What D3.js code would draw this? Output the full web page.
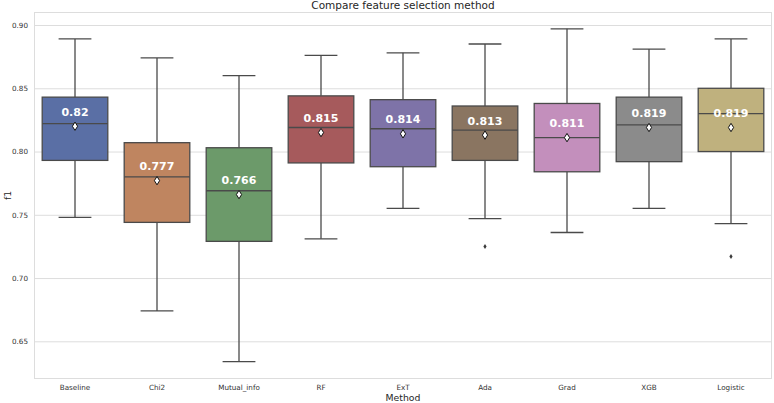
<!DOCTYPE html>
<html><head><meta charset="utf-8">
<script src="https://cdn.jsdelivr.net/npm/d3@7"></script>
<style>html,body{margin:0;padding:0;background:#fff;} svg{display:block;}</style>
</head><body>
<svg id="chart" width="774" height="403"></svg>
<script>
const categories = ["Baseline","Chi2","Mutual_info","RF","ExT","Ada","Grad","XGB","Logistic"];
const whiskerHigh = [0.889, 0.874, 0.860, 0.876, 0.878, 0.885, 0.897, 0.881, 0.889];
const q3Values    = [0.843, 0.807, 0.803, 0.844, 0.841, 0.836, 0.838, 0.843, 0.850];
const medians     = [0.822, 0.780, 0.769, 0.819, 0.818, 0.817, 0.811, 0.821, 0.830];
const q1Values    = [0.793, 0.744, 0.729, 0.791, 0.788, 0.793, 0.784, 0.792, 0.800];
const whiskerLow  = [0.748, 0.674, 0.634, 0.731, 0.755, 0.747, 0.736, 0.755, 0.743];
const means       = [0.820, 0.777, 0.766, 0.815, 0.814, 0.813, 0.811, 0.819, 0.819];
const outliers    = [[], [], [], [], [], [0.725], [], [], [0.717]];
const colors      = ["#5a6fa5","#bf8560","#6c9a6a","#a65a5c","#7e73a8","#8a7561","#c38fbc","#8b8b8b","#bfb17e"];
const yTicks      = [0.65, 0.70, 0.75, 0.80, 0.85, 0.90];

const svg = d3.select("#chart");
const W = 774, H = 403;
const m = {left: 34, right: 2, top: 12, bottom: 24};
svg.append("rect").attr("width", W).attr("height", H).attr("fill", "#fff");

const x = d3.scaleBand().domain(categories).range([m.left, W - m.right]).paddingInner(0).paddingOuter(0);
const y = d3.scaleLinear().domain([0.6202, 0.9103]).range([H - m.bottom, m.top]);

// grid
const yAxis = d3.axisLeft(y).tickValues(yTicks).tickFormat(d3.format(".2f")).tickSize(-(W - m.left - m.right)).tickPadding(6);
const gy = svg.append("g").attr("transform", `translate(${m.left},0)`).call(yAxis);
gy.select(".domain").remove();
gy.selectAll(".tick line").attr("stroke", "#dddddd").attr("stroke-width", 1);
gy.selectAll(".tick text").attr("fill", "#333").attr("font-family", "DejaVu Sans").attr("font-size", 7.2);

// frame
svg.append("rect").attr("x", m.left + 0.5).attr("y", m.top + 0.5)
  .attr("width", W - m.left - m.right - 1).attr("height", H - m.top - m.bottom - 1)
  .attr("fill", "none").attr("stroke", "#dddddd").attr("stroke-width", 1);

const xAxis = d3.axisBottom(x).tickSize(0).tickPadding(6);
const gx = svg.append("g").attr("transform", `translate(0,${H - m.bottom})`).call(xAxis);
gx.select(".domain").remove();
gx.selectAll(".tick text").attr("fill", "#333").attr("font-family", "DejaVu Sans").attr("font-size", 7.2);

const bw = x.bandwidth() * 0.8;
const lineColor = "#4a4a4a";
const data = categories.map((c, i) => ({c, i}));
const g = svg.append("g").selectAll("g").data(data).join("g")
  .attr("transform", d => `translate(${x(d.c) + x.bandwidth() / 2},0)`);

// whiskers
g.append("line").attr("x1", 0).attr("x2", 0)
  .attr("y1", d => y(q3Values[d.i])).attr("y2", d => y(whiskerHigh[d.i]))
  .attr("stroke", lineColor).attr("stroke-width", 1.3);
g.append("line").attr("x1", 0).attr("x2", 0)
  .attr("y1", d => y(q1Values[d.i])).attr("y2", d => y(whiskerLow[d.i]))
  .attr("stroke", lineColor).attr("stroke-width", 1.3);
g.append("line").attr("x1", -bw / 4).attr("x2", bw / 4)
  .attr("y1", d => y(whiskerHigh[d.i])).attr("y2", d => y(whiskerHigh[d.i]))
  .attr("stroke", lineColor).attr("stroke-width", 1.3);
g.append("line").attr("x1", -bw / 4).attr("x2", bw / 4)
  .attr("y1", d => y(whiskerLow[d.i])).attr("y2", d => y(whiskerLow[d.i]))
  .attr("stroke", lineColor).attr("stroke-width", 1.3);

// box
g.append("rect").attr("x", -bw / 2).attr("width", bw)
  .attr("y", d => y(q3Values[d.i])).attr("height", d => y(q1Values[d.i]) - y(q3Values[d.i]))
  .attr("fill", d => colors[d.i]).attr("stroke", lineColor).attr("stroke-width", 1.3);
g.append("line").attr("x1", -bw / 2).attr("x2", bw / 2)
  .attr("y1", d => y(medians[d.i])).attr("y2", d => y(medians[d.i]))
  .attr("stroke", lineColor).attr("stroke-width", 1.3);

// outliers
g.selectAll("path.out").data(d => outliers[d.i].map(v => v)).join("path").attr("class", "out")
  .attr("d", v => `M0,${y(v) - 2.5}L1.6,${y(v)}L0,${y(v) + 2.5}L-1.6,${y(v)}Z`)
  .attr("fill", "#3a3a3a");

// mean markers
g.append("path")
  .attr("d", d => { const cy = y(means[d.i]); return `M0,${cy - 4.2}L2.6,${cy}L0,${cy + 4.2}L-2.6,${cy}Z`; })
  .attr("fill", "#fff").attr("stroke", "#111").attr("stroke-width", 1);

// mean labels
g.append("text").attr("x", 0).attr("y", d => y(means[d.i]) - 14.5)
  .attr("dy", "0.36em").attr("text-anchor", "middle")
  .attr("font-family", "DejaVu Sans").attr("font-weight", "bold").attr("font-size", 11)
  .attr("fill", "#fff").text(d => String(+means[d.i].toFixed(3)));

// title & axis labels
svg.append("text").attr("x", (m.left + W - m.right) / 2).attr("y", 8.5).attr("text-anchor", "middle")
  .attr("font-family", "DejaVu Sans").attr("font-size", 10.5).attr("fill", "#262626")
  .text("Compare feature selection method");
svg.append("text").attr("x", (m.left + W - m.right) / 2).attr("y", 401).attr("text-anchor", "middle")
  .attr("font-family", "DejaVu Sans").attr("font-size", 9.3).attr("fill", "#262626").text("Method");
svg.append("text").attr("transform", `translate(11,${(m.top + H - m.bottom) / 2}) rotate(-90)`)
  .attr("text-anchor", "middle").attr("font-family", "DejaVu Sans").attr("font-size", 9.3)
  .attr("fill", "#262626").text("f1");
</script>
</body></html>
